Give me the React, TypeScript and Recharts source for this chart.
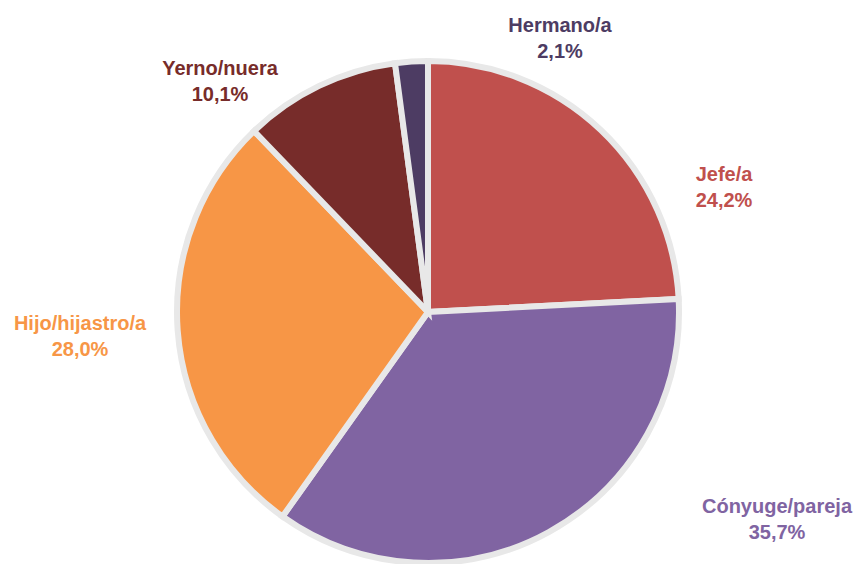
import { PieChart, Pie, Cell } from "recharts";

const categories = ["Jefe/a", "Cónyuge/pareja", "Hijo/hijastro/a", "Yerno/nuera", "Hermano/a"];
const shares = [24.2, 35.7, 28.0, 10.1, 2.1];
const sliceColors = ["#C0504D", "#8064A2", "#F79646", "#772C2A", "#4D3C63"];

// label anchor offsets from the pie centre (first line baseline)
const labelOffsets = [
  { dx: 296, dy: -131 },
  { dx: 349, dy: 201 },
  { dx: -348, dy: 18 },
  { dx: -208, dy: -237 },
  { dx: 132, dy: -280 },
];

const data = categories.map((name, i) => ({ name, value: shares[i] }));

const fmt = (v: number) => v.toFixed(1).replace(".", ",") + "%";

const renderLabel = (props: any) => {
  const { cx, cy, index, value } = props;
  const off = labelOffsets[index];
  const x = cx + off.dx;
  const y = cy + off.dy;
  return (
    <text
      x={x}
      y={y}
      textAnchor="middle"
      fill={sliceColors[index]}
      style={{ fontFamily: "Liberation Sans, Arial, sans-serif", fontWeight: 700, fontSize: 20 }}
    >
      <tspan x={x} y={y}>{categories[index]}</tspan>
      <tspan x={x} y={y + 26}>{fmt(value)}</tspan>
    </text>
  );
};

export default function App() {
  return (
    <div style={{ position: "absolute", left: 0, top: 0, width: 858, height: 564, background: "#fff" }}>
      <PieChart width={858} height={564} margin={{ top: 0, right: 0, bottom: 0, left: 0 }}>
        <Pie
          data={data}
          dataKey="value"
          nameKey="name"
          cx={428}
          cy={312}
          outerRadius={251}
          startAngle={90}
          endAngle={-270}
          stroke="#e8e8e8"
          strokeWidth={6}
          label={renderLabel}
          labelLine={false}
          isAnimationActive={false}
        >
          {data.map((d, i) => (
            <Cell key={d.name} fill={sliceColors[i]} />
          ))}
        </Pie>
      </PieChart>
    </div>
  );
}
